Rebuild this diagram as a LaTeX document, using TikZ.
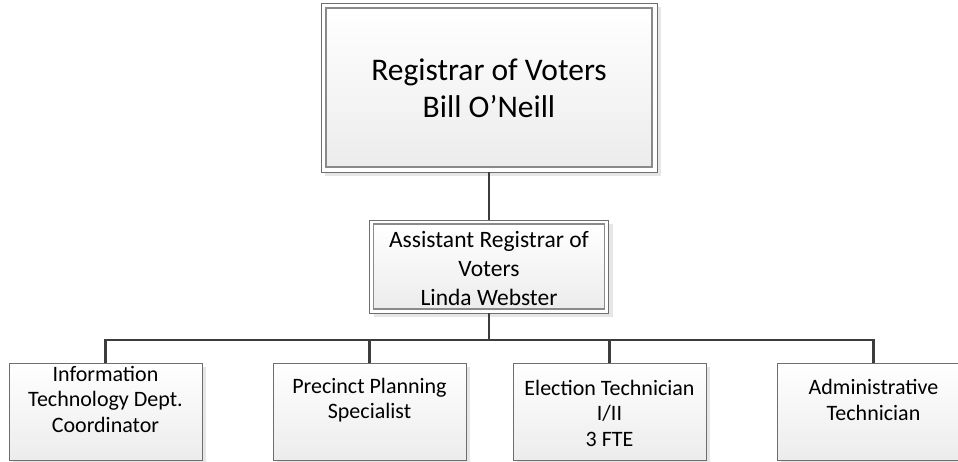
\documentclass[tikz,border=0pt]{standalone}
\usepackage{fontspec}
\setmainfont{Carlito}
\usetikzlibrary{shadows}
\definecolor{boxline}{HTML}{6E6E6E}
\definecolor{innerline}{HTML}{8A8A8A}
\definecolor{conn}{HTML}{3C3C3C}
\definecolor{shad}{HTML}{E6E6E6}
\definecolor{fillbot}{HTML}{ECECEC}
\tikzset{
  orgbox/.style={rectangle, draw=boxline, line width=0.9pt, top color=white, bottom color=fillbot,
    inner sep=0pt, drop shadow={shadow xshift=4pt, shadow yshift=-4pt, fill=shad, opacity=1}},
  rimbox/.style={rectangle, draw=boxline, line width=0.9pt, fill=white, inner sep=0pt,
    drop shadow={shadow xshift=4pt, shadow yshift=-4pt, fill=shad, opacity=1}},
  innerbox/.style={rectangle, draw=innerline, line width=1.2pt, top color=white, bottom color=fillbot, inner sep=0pt},
  lbl/.style={align=center, inner sep=0pt, text=black},
  link/.style={draw=conn, line width=2.3pt}
}
\begin{document}
\begin{tikzpicture}[x=1pt,y=-1pt]
\useasboundingbox (0,0) rectangle (958,461);
% top box
\node[rimbox, minimum width=336, minimum height=169] (topouter) at (489,87.5) {};
\node[innerbox, minimum width=326, minimum height=159] (top) at (489,87.5) {};
\node[lbl, font=\fontsize{31.5}{37}\selectfont] (toplbl) at (489,88) {Registrar of Voters\\Bill O’Neill};
% assistant
\node[rimbox, minimum width=239, minimum height=93] (asstouter) at (489,266.5) {};
\node[innerbox, minimum width=231, minimum height=85] (asst) at (489,266.5) {};
\node[lbl, font=\fontsize{23.5}{29}\selectfont] (asstlbl) at (489,268) {Assistant Registrar of\\Voters\\Linda Webster};
% bottom row
\node[orgbox, minimum width=193, minimum height=97] (b1) at (105.5,411.5) {};
\node[orgbox, minimum width=193, minimum height=97] (b2) at (369.5,411.5) {};
\node[orgbox, minimum width=193, minimum height=97] (b3) at (609.5,411.5) {};
\node[orgbox, minimum width=193, minimum height=97] (b4) at (873.5,411.5) {};
\begin{scope}[every node/.style={lbl, font=\fontsize{22}{25.5}\selectfont}]
\node (l1) at (105.5,399) {Information\\Technology Dept.\\Coordinator};
\node (l2) at (369.5,400) {Precinct Planning\\Specialist};
\node (l3) at (609.5,413) {Election Technician\\I/II\\3 FTE};
\node (l4) at (873.5,400) {Administrative\\Technician};
\end{scope}
% connectors
\coordinate (bar) at (489,340);
\draw[link] (topouter.south) -- (asstouter.north);
\draw[link] (asstouter.south) -- (bar);
\draw[link] (b1.north) -- (b1.north |- bar) -- (b4.north |- bar) -- (b4.north);
\draw[link] (b2.north) -- (b2.north |- bar);
\draw[link] (b3.north) -- (b3.north |- bar);
\end{tikzpicture}
\end{document}
